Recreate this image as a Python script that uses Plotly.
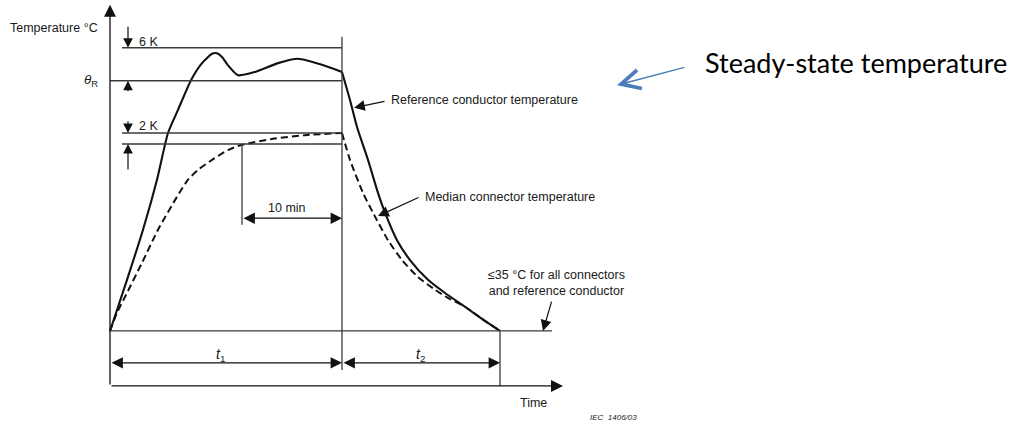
import plotly.graph_objects as go

# ---- schematic values: time in minutes, temperature in °C ----
ambient = 35.0          # end-of-test limit (≤35 °C)
theta_R = 80.5          # steady-state reference conductor temperature
band_R = 6.0            # K band above theta_R
conn_ss = 71.0          # connector steady-state temperature
band_c = 2.0            # K band below connector steady state
t1 = 23.2               # heating period end
t_end = 39.0            # cooling period end
dwell = 10.0            # stability dwell, minutes

# Reference conductor temperature
ref_heat_t = [0, 1.7, 3.3, 4.7, 5.8, 6.8, 8.1, 9.2, 10.2, 10.7, 11.2, 11.8, 12.8,
              14.5, 16.8, 18.8, 21.2, 23.2]
ref_heat_T = [35, 44.3, 53.4, 62.5, 71.0, 75.2, 80.6, 83.7, 85.4, 85.5, 84.8, 83.3,
              81.5, 82.1, 83.7, 84.5, 83.4, 82.1]
ref_cool_t = [23.2, 24.0, 24.7, 25.8, 26.8, 27.5, 28.7, 30.0, 31.8, 33.5, 35.5, 37.2, 39.0]
ref_cool_T = [82.1, 77.0, 72.1, 66.1, 60.1, 56.5, 51.5, 47.9, 44.3, 41.9, 39.4, 37.2, 35.0]

# Median connector temperature
con_heat_t = [0, 0.7, 1.5, 3.2, 4.8, 6.7, 7.8, 8.8, 10.2, 11.8, 13.1, 16.2, 19.5, 23.2]
con_heat_T = [35, 38.3, 41.2, 47.4, 53.4, 59.4, 62.5, 64.3, 66.1, 67.9, 68.8, 69.9, 70.6, 71.0]
con_cool_t = [23.2, 24.0, 25.3, 26.3, 27.8, 29.2, 30.8, 32.5, 33.8, 35.5, 37.2, 39.0]
con_cool_T = [71.0, 66.1, 60.1, 56.5, 51.5, 47.9, 44.8, 42.5, 41.0, 39.4, 37.2, 35.0]

INK = "#111111"
GRID = "#3a3a3a"
FONT = "Liberation Sans, Arial, sans-serif"
FS = 12.5

fig = go.Figure()
solid = dict(color=INK, width=2.1, shape="spline", smoothing=0.6)
dashed = dict(color=INK, width=2.0, dash="7px,4px", shape="spline", smoothing=0.6)
fig.add_trace(go.Scatter(x=ref_heat_t, y=ref_heat_T, mode="lines", line=solid))
fig.add_trace(go.Scatter(x=ref_cool_t, y=ref_cool_T, mode="lines", line=solid))
fig.add_trace(go.Scatter(x=con_heat_t, y=con_heat_T, mode="lines", line=dashed))
fig.add_trace(go.Scatter(x=con_cool_t, y=con_cool_T, mode="lines", line=dashed))


def seg(x0, y0, x1, y1, w=1.3, c=GRID):
    fig.add_shape(type="line", xref="x", yref="y", x0=x0, y0=y0, x1=x1, y1=y1,
                  line=dict(color=c, width=w))


def arrow(x, y, ax, ay, size=1.7, width=1.2, head=2, both=False, color=INK):
    d = dict(x=x, y=y, ax=ax, ay=ay, xref="x", yref="y", axref="x", ayref="y",
             text="", showarrow=True, arrowhead=head, arrowsize=size, arrowwidth=width,
             arrowcolor=color, standoff=0, startstandoff=0)
    if both:
        d.update(arrowside="end+start", startarrowhead=head, startarrowsize=size)
    fig.add_annotation(**d)


def label(x, y, text, xanchor="left", size=FS, italic=False, family=FONT, color="#1a1a1a"):
    fig.add_annotation(x=x, y=y, xref="x", yref="y", text=(f"<i>{text}</i>" if italic else text),
                       showarrow=False, xanchor=xanchor, yanchor="middle",
                       font=dict(family=family, size=size, color=color))


y_floor = 25.0
# axes
arrow(0, 94.3, 0, y_floor, size=1.85, width=1.3)
arrow(45.3, y_floor, 0, y_floor, size=1.85, width=1.3)

# reference levels
seg(0, ambient, 44.2, ambient)
seg(0, theta_R, t1, theta_R)
seg(1.2, theta_R + band_R, t1, theta_R + band_R)
seg(1.2, conn_ss, t1, conn_ss)
seg(1.2, conn_ss - band_c, t1, conn_ss - band_c)
seg(t1, 27.9, t1, 88.5)
seg(t_end, y_floor, t_end, ambient)
seg(t1 - dwell, 54.3, t1 - dwell, conn_ss - band_c)

# band markers
arrow(1.8, theta_R + band_R, 1.8, 90.6, size=1.6)
arrow(1.8, theta_R, 1.8, 78.3, size=1.6)
arrow(1.8, conn_ss, 1.8, 73.4, size=1.6)
arrow(1.8, conn_ss - band_c, 1.8, 64.1, size=1.6)

# dimension arrows
arrow(t1, 55.5, t1 - dwell, 55.5, size=1.9, both=True)
arrow(t1, 29.2, 0, 29.2, size=1.9, both=True)
arrow(t_end, 29.2, t1, 29.2, size=1.9, both=True)

# callout arrows
arrow(24.4, 75.6, 27.6, 76.8, size=1.8)
arrow(26.8, 55.9, 31.0, 59.4, size=1.8)
arrow(43.3, ambient, 44.2, 40.6, size=1.8)

# text
label(-1.0, 90.1, "Temperature °C", xanchor="right")
label(-1.0, theta_R, "<i>θ</i><sub>R</sub>", xanchor="right", size=13.5)
label(2.7, 87.6, "6 K")
label(2.7, 72.3, "2 K")
label(17.7, 57.4, "10 min", xanchor="center")
label(11.0, 30.6, "<i>t</i><sub>1</sub>", xanchor="center", size=14)
label(31.0, 30.6, "<i>t</i><sub>2</sub>", xanchor="center", size=14)
label(27.9, 77.0, "Reference conductor temperature")
label(31.3, 59.4, "Median connector temperature")
label(37.6, 43.8, "≤35 °C for all connectors<br>and reference conductor")
label(42.3, 21.9, "Time", xanchor="center")
label(47.8, 19.2, "IEC  1406/03", size=8, italic=True)

# steady-state callout
label(59.3, 83.9, "Steady-state temperature", size=27, family="Lato, Open Sans, sans-serif",
      color="#000000")
arrow(50.7, 79.7, 57.6, 83.0, size=2.5, width=1.5, head=5, color="#4a7ebb")

fig.update_layout(
    width=1013, height=425,
    margin=dict(l=0, r=0, t=0, b=0),
    paper_bgcolor="white", plot_bgcolor="white",
    showlegend=False,
    xaxis=dict(range=[-11, 90.3], visible=False, fixedrange=True),
    yaxis=dict(range=[17.9, 95.18], visible=False, fixedrange=True),
)

fig.write_html("out.html")
